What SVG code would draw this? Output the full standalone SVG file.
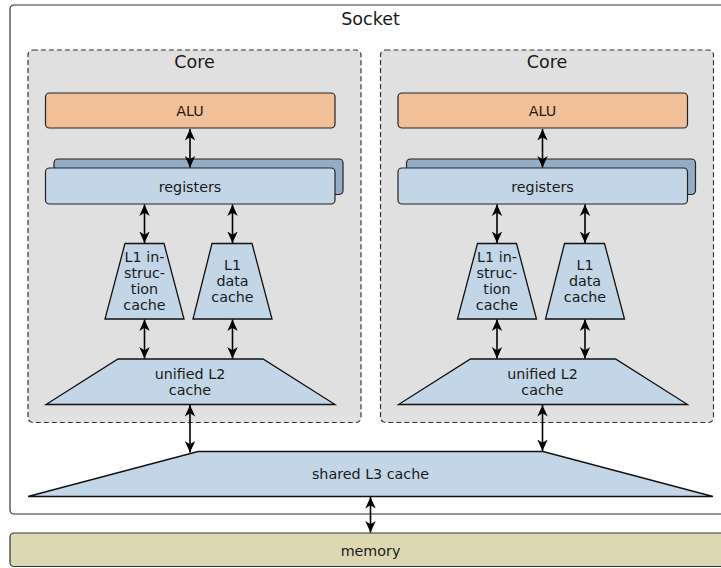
<svg xmlns="http://www.w3.org/2000/svg" width="721" height="568" viewBox="0 0 721 568">
<style>
text{font-family:"DejaVu Sans","Liberation Sans",sans-serif;fill:#1a1a1a;text-anchor:middle}
.lbl{font-size:17.5px}
.t{font-size:14.3px}
.socket{fill:#ffffff;stroke:#333;stroke-width:1.2}
.core{fill:#e0e0e0;stroke:#333;stroke-width:1.2;stroke-dasharray:5,3}
.alu{fill:#f2c098;stroke:#222;stroke-width:1.2}
.reg{fill:#c3d6e7;stroke:#222;stroke-width:1.2}
.regb{fill:#92adc4;stroke:#222;stroke-width:1.2}
.cache{fill:#c3d6e7;stroke:#111;stroke-width:1.3;stroke-linejoin:miter}
.mem{fill:#ded8b2;stroke:#333;stroke-width:1.2}
.conn line{stroke:#000;stroke-width:1.6;marker-start:url(#ah);marker-end:url(#ah)}
</style>
<defs>
<marker id="ah" viewBox="0 -6 12 12" refX="11.5" refY="0" markerWidth="12" markerHeight="12" markerUnits="userSpaceOnUse" orient="auto-start-reverse">
<path d="M0,-5.2 L11.5,0 L0,5.2 L3.2,0 Z" fill="#000"/>
</marker>
</defs>

<g id="socket">
<rect class="socket" x="10" y="5" width="725" height="509" rx="4"/>
<text class="lbl" x="370.5" y="25">Socket</text>
</g>

<g id="core1">
<rect class="core" x="28" y="50" width="333" height="372.5" rx="5"/>
<text class="lbl" x="194.5" y="68">Core</text>
</g>
<g id="core2">
<rect class="core" x="380.5" y="50" width="333" height="372.5" rx="5"/>
<text class="lbl" x="547" y="68">Core</text>
</g>

<g id="alu1">
<rect class="alu" x="45.5" y="93" width="289.5" height="35" rx="4"/>
<text class="t" x="190" y="116">ALU</text>
</g>
<g id="alu2">
<rect class="alu" x="398" y="93" width="289.5" height="35" rx="4"/>
<text class="t" x="542.5" y="116">ALU</text>
</g>

<g id="registers1">
<rect class="regb" x="54" y="159" width="289" height="35.5" rx="4"/>
<rect class="reg" x="45.5" y="168" width="289.5" height="36" rx="4"/>
<text class="t" x="190" y="191.5">registers</text>
</g>
<g id="registers2">
<rect class="regb" x="406.5" y="159" width="289" height="35.5" rx="4"/>
<rect class="reg" x="398" y="168" width="289.5" height="36" rx="4"/>
<text class="t" x="542.5" y="191.5">registers</text>
</g>

<g id="l1i1">
<polygon class="cache" points="125,243.5 164,243.5 184,319 105,319"/>
<text class="t" x="144.5" y="261.5">L1 in-</text>
<text class="t" x="144.5" y="277.5">struc-</text>
<text class="t" x="144.5" y="293.5">tion</text>
<text class="t" x="144.5" y="309.5">cache</text>
</g>
<g id="l1d1">
<polygon class="cache" points="212,243.5 252,243.5 272,319 193,319"/>
<text class="t" x="232.5" y="270">L1</text>
<text class="t" x="232.5" y="286">data</text>
<text class="t" x="232.5" y="302">cache</text>
</g>
<g id="l1i2">
<polygon class="cache" points="477.5,243.5 516.5,243.5 536.5,319 457.5,319"/>
<text class="t" x="497" y="261.5">L1 in-</text>
<text class="t" x="497" y="277.5">struc-</text>
<text class="t" x="497" y="293.5">tion</text>
<text class="t" x="497" y="309.5">cache</text>
</g>
<g id="l1d2">
<polygon class="cache" points="564.5,243.5 604.5,243.5 624.5,319 545.5,319"/>
<text class="t" x="585" y="270">L1</text>
<text class="t" x="585" y="286">data</text>
<text class="t" x="585" y="302">cache</text>
</g>

<g id="l2a">
<polygon class="cache" points="118,359 263,359 335,404.5 46,404.5"/>
<text class="t" x="190" y="378.5">unified L2</text>
<text class="t" x="190" y="394.5">cache</text>
</g>
<g id="l2b">
<polygon class="cache" points="470.5,359 615.5,359 687.5,404.5 398.5,404.5"/>
<text class="t" x="542.5" y="378.5">unified L2</text>
<text class="t" x="542.5" y="394.5">cache</text>
</g>

<g id="l3">
<polygon class="cache" points="198,451.5 543,451.5 713,496.5 28,496.5"/>
<text class="t" x="370.5" y="479">shared L3 cache</text>
</g>

<g id="memory">
<rect class="mem" x="10" y="533" width="725" height="33.5" rx="4"/>
<text class="t" x="370.5" y="556">memory</text>
</g>

<g id="connectors" class="conn">
<line x1="190" y1="129" x2="190" y2="167.5"/>
<line x1="542.5" y1="129" x2="542.5" y2="167.5"/>
<line x1="144.5" y1="204.5" x2="144.5" y2="243"/>
<line x1="232.5" y1="204.5" x2="232.5" y2="243"/>
<line x1="497" y1="204.5" x2="497" y2="243"/>
<line x1="585" y1="204.5" x2="585" y2="243"/>
<line x1="144.5" y1="319.5" x2="144.5" y2="358.5"/>
<line x1="232.5" y1="319.5" x2="232.5" y2="358.5"/>
<line x1="497" y1="319.5" x2="497" y2="358.5"/>
<line x1="585" y1="319.5" x2="585" y2="358.5"/>
<line x1="190" y1="405" x2="190" y2="452.5"/>
<line x1="542.5" y1="405" x2="542.5" y2="451"/>
<line x1="370.5" y1="497" x2="370.5" y2="532.5"/>
</g>
</svg>
